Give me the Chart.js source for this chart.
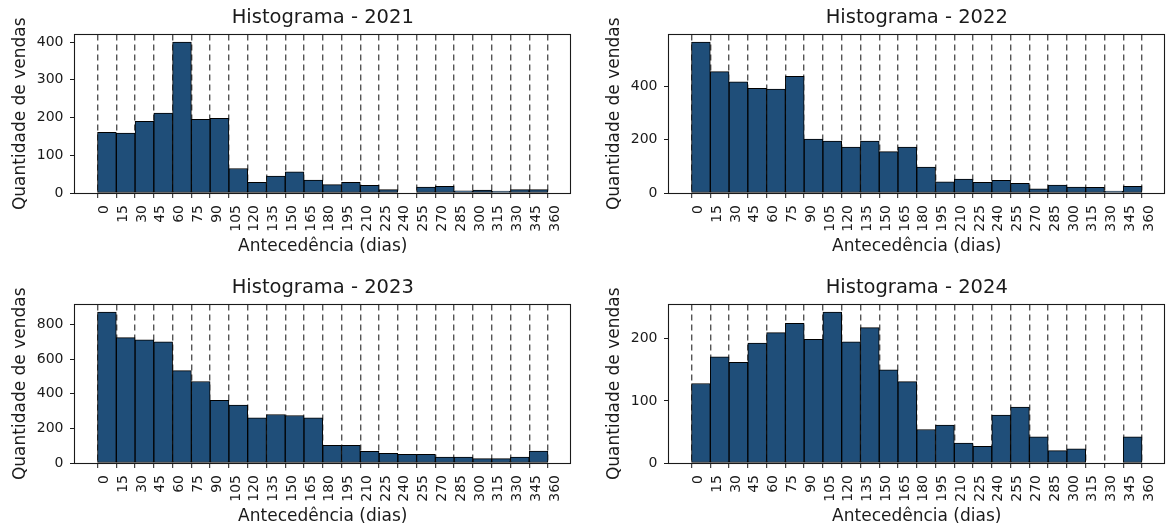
<!DOCTYPE html>
<html>
<head>
<meta charset="utf-8">
<script src="https://cdn.jsdelivr.net/npm/chart.js@4/dist/chart.umd.min.js"></script>
<style>
html,body{margin:0;padding:0;background:#fff;overflow:hidden;width:1167px;height:526px;}
canvas{position:absolute;}
</style>
</head>
<body>
<canvas id="c0" width="583" height="257" style="left:0px;top:0px"></canvas>
<canvas id="c1" width="583" height="257" style="left:594px;top:0px"></canvas>
<canvas id="c2" width="583" height="257" style="left:0px;top:270px"></canvas>
<canvas id="c3" width="583" height="257" style="left:594px;top:270px"></canvas>
<script>
// ---- data ----
const years = ['2021', '2022', '2023', '2024'];
const binEdges = [0,15,30,45,60,75,90,105,120,135,150,165,180,195,210,225,240,255,270,285,300,315,330,345,360];
const vendas2021 = [161,159,190,212,400,195,198,65,28,45,56,34,22,28,20,9,0,16,18,6,8,5,9,9];
const vendas2022 = [565,454,416,392,389,437,202,194,172,194,155,172,97,42,52,40,47,36,16,30,22,21,7,25];
const vendas2023 = [871,723,710,699,533,470,361,334,261,280,274,261,102,102,67,56,50,50,34,34,25,25,34,69];
const vendas2024 = [128,171,162,193,210,225,199,243,195,218,150,131,54,61,32,27,77,90,42,20,23,0,0,42];
const yTickSteps = [100, 200, 200, 100];
const allSeries = [vendas2021, vendas2022, vendas2023, vendas2024];

const FONT = 'DejaVu Sans';
const TXT = '#1a1a1a';
const BAR = '#1f4e79';

const framePlugin = {
  id: 'frame',
  afterDatasetsDraw(chart) {
    const {ctx, chartArea: a} = chart;
    ctx.save();
    ctx.strokeStyle = '#1a1a1a';
    ctx.lineWidth = 1.1;
    ctx.strokeRect(a.left - 0.5, a.top, a.right - a.left + 0.5, a.bottom - a.top + 0.5);
    ctx.restore();
  }
};

const centers = binEdges.slice(0, -1).map((e, i) => (e + binEdges[i + 1]) / 2);
const xMargin = (binEdges[binEdges.length - 1] - binEdges[0]) * 0.05;

years.forEach((yr, k) => {
  const vals = allSeries[k];
  const yMax = Math.max(...vals) * 1.05;
  const step = yTickSteps[k];
  new Chart(document.getElementById('c' + k), {
    type: 'bar',
    data: {
      datasets: [{
        data: centers.map((c, i) => ({x: c, y: vals[i]})),
        backgroundColor: BAR,
        borderColor: '#000',
        borderWidth: 1,
        borderSkipped: false,
        barPercentage: 1,
        categoryPercentage: 1
      }]
    },
    options: {
      responsive: false,
      animation: false,
      devicePixelRatio: 1,
      layout: {padding: {left: 0, right: 12.5, top: 0, bottom: 0}},
      plugins: {
        legend: {display: false},
        tooltip: {enabled: false},
        title: {
          display: true,
          text: 'Histograma - ' + yr,
          fullSize: false,
          color: TXT,
          font: {family: FONT, size: 19.5, weight: 'normal'},
          padding: {top: 6, bottom: 5.1}
        }
      },
      scales: {
        x: {
          type: 'linear',
          min: binEdges[0] - xMargin,
          max: binEdges[binEdges.length - 1] + xMargin,
          offset: false,
          afterBuildTicks: (s) => { s.ticks = binEdges.map(v => ({value: v})); },
          afterFit: (s) => { s.height = 64; },
          grid: {
            display: true,
            offset: false,
            drawOnChartArea: true,
            drawTicks: true,
            color: '#555',
            lineWidth: 1.4,
            borderDash: [6, 4],
            tickLength: 5,
            tickColor: TXT,
            tickWidth: 1,
            tickBorderDash: []
          },
          border: {display: false, dash: [6, 4]},
          ticks: {
            autoSkip: false,
            maxRotation: 90,
            minRotation: 90,
            padding: 7,
            labelOffset: 7,
            color: TXT,
            font: {family: FONT, size: 14},
            callback: (v) => String(v)
          },
          title: {
            display: true,
            text: 'Antecedência (dias)',
            color: TXT,
            font: {family: FONT, size: 17},
            padding: {top: 0, bottom: 0}
          }
        },
        y: {
          min: 0,
          max: yMax,
          afterBuildTicks: (s) => {
            const t = [];
            for (let v = 0; v <= s.max; v += step) t.push({value: v});
            s.ticks = t;
          },
          afterFit: (s) => { s.width = 75; },
          grid: {
            display: true,
            drawOnChartArea: false,
            drawTicks: true,
            tickLength: 5,
            tickColor: TXT,
            tickWidth: 1
          },
          border: {display: false},
          ticks: {
            padding: 6.5,
            color: TXT,
            font: {family: FONT, size: 14},
            callback: (v) => String(v)
          },
          title: {
            display: true,
            text: 'Quantidade de vendas',
            color: TXT,
            font: {family: FONT, size: 17},
            padding: {top: 10.4, bottom: 0}
          }
        }
      }
    },
    plugins: [framePlugin]
  });
});
</script>
</body>
</html>
